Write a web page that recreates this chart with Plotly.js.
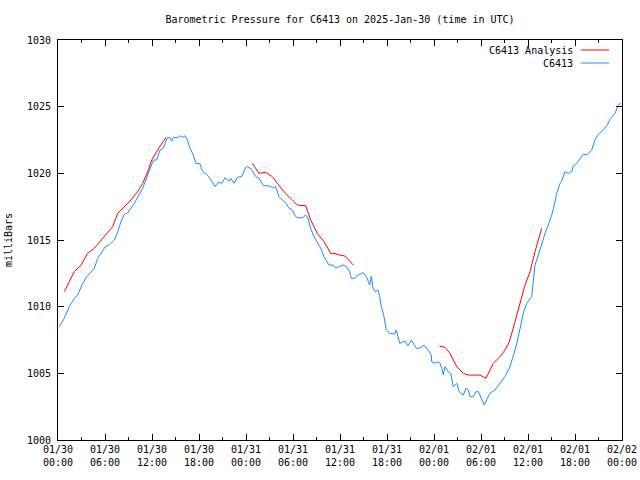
<!DOCTYPE html>
<html>
<head>
<meta charset="utf-8">
<script src="https://cdn.plot.ly/plotly-3.0.1.min.js"></script>
<style>html,body{margin:0;padding:0;background:#fff;}#chart{width:640px;height:480px;}</style>
</head>
<body>
<div id="chart"></div>
<script>
// Hours since 2025-01-30 00:00 UTC
const obsHours = [0.17,0.80,1.44,2.08,2.51,3.15,3.66,4.21,4.63,5.07,5.49,6.04,6.55,7.19,7.62,8.04,8.46,8.90,9.74,10.38,10.81,11.45,11.96,12.17,12.60,13.02,13.44,13.79,13.95,14.30,14.51,14.72,15.36,15.57,15.92,16.21,16.51,16.85,17.27,17.62,18.13,18.47,18.98,19.40,20.04,20.46,20.90,21.32,21.87,22.05,22.47,22.89,23.45,23.96,24.17,24.68,25.24,25.66,26.21,26.94,27.36,27.79,28.21,28.63,29.07,29.49,29.91,30.34,30.55,31.19,31.62,31.91,32.26,32.68,33.10,33.54,33.96,34.60,35.14,35.45,35.87,36.38,36.80,37.24,37.44,37.88,38.30,38.94,39.36,39.57,39.79,40.00,40.21,40.51,40.85,41.07,41.27,41.58,41.71,41.91,42.34,42.98,43.19,43.62,44.26,44.68,45.10,45.45,45.74,46.17,46.72,47.23,47.66,47.70,48.13,48.55,48.77,48.99,49.19,49.40,49.83,50.13,50.46,50.90,51.23,51.74,52.09,52.38,52.60,53.02,53.36,53.66,54.09,54.42,54.81,55.15,55.79,56.43,57.06,57.70,58.12,58.47,58.76,59.00,59.40,59.83,60.47,60.67,60.89,61.32,61.75,62.17,62.59,63.03,63.45,63.66,64.09,64.30,64.72,65.14,65.58,65.78,66.22,66.64,67.06,67.49,68.13,68.55,68.97,69.61,70.12,70.56,71.11,71.53,71.84];
const obsPressure = [1008.50,1009.13,1010.00,1010.63,1010.87,1011.75,1012.25,1012.62,1012.88,1013.63,1014.00,1014.50,1014.63,1015.00,1015.62,1016.37,1016.93,1017.05,1017.75,1018.50,1018.88,1019.87,1020.75,1021.00,1021.00,1021.75,1021.88,1022.37,1022.67,1022.67,1022.42,1022.70,1022.70,1022.82,1022.70,1022.82,1022.50,1021.88,1021.37,1020.75,1020.70,1020.12,1019.93,1019.63,1019.00,1019.33,1019.25,1019.67,1019.42,1019.63,1019.25,1019.70,1019.75,1020.45,1020.50,1020.32,1019.75,1019.63,1019.07,1019.07,1018.92,1019.00,1018.25,1018.00,1017.80,1017.38,1017.25,1016.75,1016.67,1016.67,1016.87,1016.63,1015.88,1015.25,1014.87,1014.38,1013.75,1013.12,1013.12,1012.88,1013.00,1013.12,1013.00,1012.62,1012.13,1012.13,1012.37,1012.55,1012.25,1011.87,1011.62,1012.30,1011.38,1011.12,1011.25,1010.75,1010.00,1009.37,1009.00,1008.25,1008.00,1007.95,1008.25,1007.25,1007.42,1007.05,1007.50,1007.12,1006.88,1006.88,1007.12,1006.75,1006.37,1005.87,1005.75,1005.87,1005.75,1005.38,1004.87,1005.50,1005.12,1005.00,1004.00,1004.25,1003.62,1003.37,1003.88,1003.75,1003.25,1003.25,1003.62,1003.62,1003.00,1002.62,1003.13,1003.50,1003.75,1004.25,1004.75,1005.50,1006.25,1007.00,1007.75,1008.32,1009.50,1010.25,1010.75,1011.87,1013.12,1013.87,1014.75,1015.50,1016.12,1016.87,1017.87,1018.50,1019.25,1019.42,1020.12,1020.00,1020.12,1020.57,1020.75,1021.13,1021.43,1021.38,1021.75,1022.50,1022.93,1023.25,1023.63,1024.13,1024.50,1025.12,1025.25];

// Analysis series (three separate segments; null breaks the line)
const anaHours = [0.80,2.08,2.94,3.79,4.63,5.49,6.34,6.98,7.62,8.46,9.32,10.17,10.81,11.45,11.96,12.80,13.79,
  null,
  24.80,25.66,26.51,27.36,28.00,28.85,29.91,30.55,31.62,32.26,33.10,33.96,34.81,35.23,35.96,36.64,37.70,
  null,
  48.68,49.40,50.04,50.90,51.74,52.38,53.87,54.64,55.57,56.43,57.06,57.57,58.05,58.98,59.62,60.26,60.89,61.75];
const anaPressure = [1011.12,1012.62,1013.12,1014.00,1014.38,1015.00,1015.62,1016.00,1017.00,1017.50,1018.00,1018.62,1019.25,1020.12,1021.00,1021.82,1022.70,
  null,
  1020.75,1020.00,1020.08,1019.75,1019.25,1018.62,1018.00,1017.62,1017.57,1016.50,1015.50,1014.87,1014.00,1014.00,1013.87,1013.80,1013.12,
  null,
  1007.05,1006.95,1006.50,1005.50,1005.00,1004.87,1004.87,1004.63,1005.75,1006.25,1006.75,1007.30,1008.25,1010.25,1011.62,1012.62,1014.12,1015.88];

const tickHours = [0,6,12,18,24,30,36,42,48,54,60,66,72];
const tickLabels = ["01/30<br>00:00","01/30<br>06:00","01/30<br>12:00","01/30<br>18:00","01/31<br>00:00","01/31<br>06:00","01/31<br>12:00","01/31<br>18:00","02/01<br>00:00","02/01<br>06:00","02/01<br>12:00","02/01<br>18:00","02/02<br>00:00"];
const seriesNames = ["C6413 Analysis","C6413"];

const base = Date.UTC(2025,0,30,0,0,0);
function toDate(h){
  if (h === null) return null;
  return new Date(base + h*3600000).toISOString().slice(0,19).replace('T',' ');
}

const font = {family:'"DejaVu Sans Mono", monospace', size:10, color:'#000'};

const traces = [
  {x: anaHours.map(toDate), y: anaPressure, type:'scatter', mode:'lines', name:seriesNames[0],
   line:{color:'#ff0000', width:1}, connectgaps:false},
  {x: obsHours.map(toDate), y: obsPressure, type:'scatter', mode:'lines', name:seriesNames[1],
   line:{color:'#1a8cff', width:1}}
];

const layout = {
  width:640, height:480,
  margin:{l:58, r:18, t:40, b:40},
  paper_bgcolor:'#fff', plot_bgcolor:'#fff',
  font: font,
  showlegend:false,
  title:{text:'Barometric Pressure for C6413 on 2025-Jan-30 (time in UTC)', font:font,
    xref:'paper', x:0.5, xanchor:'center', yref:'container', y:1-19/480, yanchor:'middle'},
  xaxis:{type:'date', range:[toDate(0), toDate(72)], tickvals: tickHours.map(toDate), ticktext: tickLabels,
    showgrid:false, zeroline:false, showline:true, linecolor:'#000', linewidth:1, mirror:'ticks',
    ticks:'inside', ticklen:6, tickcolor:'#000', tickfont:font,
    minor:{dtick:3*3600000, ticks:'inside', ticklen:3, tickcolor:'#000', showgrid:false}},
  yaxis:{range:[1000,1030], dtick:5, tick0:1000, showgrid:false, zeroline:false, showline:true, linecolor:'#000',
    linewidth:1, mirror:'ticks', ticks:'inside', ticklen:6, tickcolor:'#000', tickfont:font, ticklabelstandoff:4,
    title:{text:'milliBars', font:font, standoff:12}},
  shapes:[
    {type:'line', xref:'paper', yref:'paper', x0:0.927, x1:0.977, y0:0.975, y1:0.975, line:{color:'#ff0000', width:1}},
    {type:'line', xref:'paper', yref:'paper', x0:0.927, x1:0.977, y0:0.9425, y1:0.9425, line:{color:'#1a8cff', width:1}}
  ],
  annotations:[
    {xref:'paper', yref:'paper', x:0.917, y:0.975, xanchor:'right', yanchor:'middle', text:seriesNames[0], showarrow:false, font:font},
    {xref:'paper', yref:'paper', x:0.917, y:0.9425, xanchor:'right', yanchor:'middle', text:seriesNames[1], showarrow:false, font:font}
  ]
};

Plotly.newPlot('chart', traces, layout, {staticPlot:true, displayModeBar:false});
</script>
</body>
</html>
